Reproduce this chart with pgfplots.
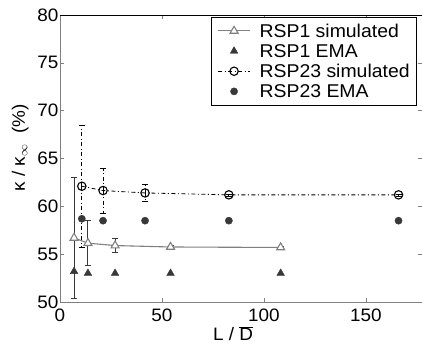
\documentclass[border=0pt]{standalone}
\usepackage{pgfplots}
\pgfplotsset{compat=1.18}
\usepackage{fontspec}
\setmainfont{Liberation Sans}[FakeStretch=1.05]
\definecolor{simgray}{gray}{0.5}
\definecolor{darkg}{gray}{0.22}
\begin{document}
\begin{tikzpicture}
\begin{axis}[
  name=ax,
  scale only axis,
  width=362bp, height=287bp,
  xmin=0, xmax=177.5, ymin=50, ymax=80,
  xtick={0,50,100,150}, ytick={50,55,...,80},
  tick align=inside,
  major tick length=4bp,
  axis line style={simgray, line width=0.8bp},
  tick style={simgray, line width=0.6bp},
  font=\fontsize{18bp}{21bp}\selectfont,
  /pgf/number format/assume math mode=true,
  yticklabel style={inner sep=1.5bp},
  xticklabel style={inner sep=2bp, yshift=-5bp},
  xlabel={L / $\overline{\mbox{D}}$},
  ylabel={κ / κ$_{\infty}$\ \ (\%)},
  xlabel style={at={(axis description cs:0.478,-0.111)}, anchor=center},
  ylabel style={at={(axis description cs:-0.11,0.537)}, anchor=center},
  legend style={at={(0.418,0.993)}, anchor=north west, draw=black, fill=white,
    font=\fontsize{18.5bp}{20bp}\selectfont, row sep=5bp, inner ysep=6bp, inner xsep=6bp,
    cells={anchor=west}, nodes={inner sep=1bp, text depth=0pt},
    /tikz/every odd column/.append style={column sep=8bp}},
  legend image code/.code={\draw[mark repeat=2,mark phase=2,#1] plot coordinates {(0bp,0bp) (16bp,0bp) (32bp,0bp)};},
  clip=false,
]
% RSP1 simulated
\addplot[simgray, line width=1.1bp, mark=triangle*, mark size=4.6bp,
  mark options={fill=white, draw=simgray, solid, line width=1.1bp},
  error bars/.cd, y dir=both, y explicit,
  error bar style={darkg, line width=1.1bp},
  error mark options={rotate=90, mark size=3bp, darkg, line width=0.8bp}]
  coordinates {
  (6.9,56.7) +- (0,6.3)
  (13.7,56.15) +- (0,2.35)
  (27,55.9) +- (0,0.75)
  (54.2,55.75) +- (0,0.15)
  (108.2,55.7) +- (0,0.1)
};
\addlegendentry{RSP1 simulated}
% RSP1 EMA
\addplot[only marks, mark=triangle*, mark size=4.4bp, darkg, mark options={fill=darkg, draw=darkg}]
  coordinates {(6.9,53.2) (13.7,53.0) (27,53.0) (54.2,53.0) (108.2,53.0)};
\addlegendentry{RSP1 EMA}
% RSP23 simulated
\addplot[black, line width=0.8bp, dash pattern=on 4bp off 2.5bp on 1bp off 2.5bp,
  mark=o, mark size=4.2bp, mark options={solid, fill=white, line width=1.1bp},
  error bars/.cd, y dir=both, y explicit,
  error bar style={black, line width=0.8bp, dash pattern=on 4bp off 2.5bp on 1bp off 2.5bp},
  error mark options={rotate=90, mark size=3bp, black, solid, line width=0.6bp}]
  coordinates {
  (10.7,62.1) +- (0,6.4)
  (21.1,61.65) +- (0,2.35)
  (41.7,61.4) +- (0,0.9)
  (82.8,61.2) +- (0,0.1)
  (166,61.2) +- (0,0.1)
};
\addlegendentry{RSP23 simulated}
% RSP23 EMA
\addplot[only marks, mark=*, mark size=3.6bp, darkg, mark options={fill=darkg, draw=darkg}]
  coordinates {(10.7,58.7) (21.1,58.5) (41.7,58.5) (82.8,58.5) (166,58.5)};
\addlegendentry{RSP23 EMA}
\draw[black, line width=0.8bp] (rel axis cs:0,1) -- (rel axis cs:1,1);
\end{axis}
\pgfresetboundingbox
\path[use as bounding box] (-60bp,-43bp) rectangle (362bp,302bp);
\end{tikzpicture}
\end{document}
